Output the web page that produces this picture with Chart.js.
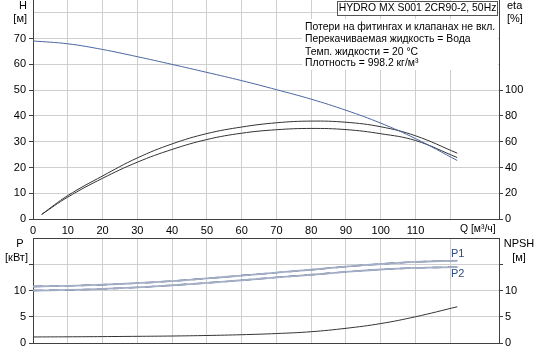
<!doctype html>
<html lang="ru">
<head>
<meta charset="utf-8">
<title>HYDRO MX S001 2CR90-2</title>
<style>
  body { margin: 0; background: #fff; }
  #wrap { position: relative; width: 539px; height: 352px; overflow: hidden; }
  canvas { position: absolute; left: 0; }
  #top { top: 0; }
  #bottom { top: 236px; }
</style>
</head>
<body>
<div id="wrap">
  <canvas id="top" width="539" height="240"></canvas>
  <canvas id="bottom" width="539" height="116"></canvas>
</div>
<script src="https://cdn.jsdelivr.net/npm/chart.js@4"></script>
<script>
// flow points, m3/h
const Q = [0, 10, 20, 30, 40, 50, 60, 70, 80, 90, 100, 110, 122];
const Q_ETA = [2.5, 10, 20, 30, 40, 50, 60, 70, 80, 90, 100, 110, 122];

// head, m
const H = [69.1, 68.0, 65.8, 63.0, 60.0, 56.9, 53.7, 50.2, 46.5, 42.2, 37.2, 31.2, 22.7];
// efficiency, %
const ETA1 = [3.6, 18.2, 33.4, 47.4, 58.3, 66.3, 71.4, 74.7, 76.0, 75.1, 71.6, 64.6, 51.1];
const ETA2 = [3.6, 17.0, 31.6, 44.1, 54.0, 61.7, 66.6, 69.3, 70.3, 69.4, 66.2, 60.9, 47.7];

// power, kW and NPSH, m
const P1 = [10.76, 10.9, 11.1, 11.4, 11.8, 12.3, 12.85, 13.4, 13.95, 14.55, 15.05, 15.45, 15.7];
const P2 = [10.0, 10.1, 10.3, 10.6, 11.0, 11.45, 11.95, 12.5, 13.0, 13.55, 14.0, 14.3, 14.45];
const NPSH = [1.15, 1.18, 1.22, 1.27, 1.33, 1.43, 1.58, 1.8, 2.15, 2.8, 3.7, 5.0, 6.9];

// axis ranges / last labelled tick
const Q_MAX = 134, Q_LAST_LABEL = 110;
const H_MAX = 85, H_LAST_LABEL = 70;
const ETA_MAX = 170, ETA_LAST_LABEL = 100;
const P_MAX = 20, P_LAST_LABEL = 10;

const TITLE = 'HYDRO MX S001 2CR90-2, 50Hz';
const INFO = [
  'Потери на фитингах и клапанах не вкл.',
  'Перекачиваемая жидкость = Вода',
  'Темп. жидкости = 20 °C',
  'Плотность = 998.2 кг/м³'
];

const FAMILY = '"Liberation Sans", Arial, sans-serif';
const FONT = '11px ' + FAMILY;
const SMALL = '10.4px ' + FAMILY;
Chart.defaults.font.family = FAMILY;
Chart.defaults.font.size = 11;
Chart.defaults.color = '#000';

const GRID = '#cfcfcf';
const AXIS = '#404040';

function pts(xs, ys) { return xs.map((x, i) => ({ x: x, y: ys[i] })); }

function line(data, color, width, dash) {
  return {
    data: data, borderColor: color, borderWidth: width, borderDash: dash || [],
    pointRadius: 0, fill: false, tension: 0.4
  };
}

function fixWidth(w) {
  return function (s) { s.width = w; s.paddingTop = 0; s.paddingBottom = 0; };
}
function fixHeight(h) {
  return function (s) { s.height = h; s.paddingLeft = 0; s.paddingRight = 0; };
}

// ---------- top chart: H and eta ----------
new Chart(document.getElementById('top'), {
  type: 'line',
  data: {
    datasets: [
      Object.assign(line(pts(Q, H), '#4a66a0', 1), { yAxisID: 'y' }),
      Object.assign(line(pts(Q_ETA, ETA1), '#333', 1), { yAxisID: 'eta' }),
      Object.assign(line(pts(Q_ETA, ETA2), '#333', 1), { yAxisID: 'eta' })
    ]
  },
  options: {
    responsive: false,
    animation: false,
    layout: { padding: 0 },
    plugins: { legend: { display: false }, tooltip: { enabled: false } },
    scales: {
      x: {
        type: 'linear', min: 0, max: Q_MAX,
        ticks: { stepSize: 10, padding: 5, maxRotation: 0,
          callback: v => v <= Q_LAST_LABEL ? v : '' },
        grid: { color: GRID, drawTicks: false },
        border: { display: true, color: AXIS, width: 1 },
        afterFit: fixHeight(21)
      },
      y: {
        position: 'left', min: 0, max: H_MAX,
        ticks: { stepSize: 5, padding: 3, callback: v => v <= H_LAST_LABEL ? v : '' },
        grid: { color: GRID, tickLength: 4,
          tickColor: c => (c.tick && c.tick.value <= 75) ? AXIS : 'rgba(0,0,0,0)' },
        border: { display: true, color: AXIS, width: 1 },
        afterFit: fixWidth(33)
      },
      eta: {
        position: 'right', min: 0, max: ETA_MAX,
        ticks: { stepSize: 10, padding: 2, callback: v => v <= ETA_LAST_LABEL ? v : '' },
        grid: { drawOnChartArea: false, tickLength: 4,
          tickColor: c => (c.tick && c.tick.value <= ETA_LAST_LABEL) ? AXIS : 'rgba(0,0,0,0)' },
        border: { display: true, color: AXIS, width: 1 },
        afterFit: fixWidth(40)
      }
    }
  },
  plugins: [{
    id: 'topTexts',
    beforeDatasetsDraw(chart) {
      const c = chart.ctx;
      c.save();
      c.fillStyle = '#fff';
      c.fillRect(302, 19, 196, 51);
      c.fillRect(337, 1, 161, 14);
      c.strokeStyle = '#555';
      c.lineWidth = 1;
      c.strokeRect(337.5, 1.5, 160, 14);
      c.restore();
    },
    afterDraw(chart) {
      const c = chart.ctx;
      c.save();
      c.font = FONT;
      c.fillStyle = '#000';
      c.textBaseline = 'middle';
      c.textAlign = 'right';
      c.fillText('H', 27, 6);
      c.fillText('[м]', 27, 19);
      c.textAlign = 'left';
      c.fillText('eta', 507, 6);
      c.fillText('[%]', 507, 19);
      c.font = SMALL;
      c.fillText('Q [м³/ч]', 460, 229.5);
      c.textAlign = 'center';
      c.fillText(TITLE, 417.5, 8.5);
      c.textAlign = 'left';
      const ys = [26.7, 39.3, 51.7, 63.5];
      INFO.forEach((t, i) => c.fillText(t, 305, ys[i]));
      c.restore();
    }
  }]
});

// ---------- bottom chart: P and NPSH ----------
new Chart(document.getElementById('bottom'), {
  type: 'line',
  data: {
    datasets: [
      Object.assign(line(pts(Q, P1), '#a3adc4', 1.8), { yAxisID: 'y' }),
      Object.assign(line(pts(Q, P1), '#1d4580', 1.4, [10, 6]), { yAxisID: 'y' }),
      Object.assign(line(pts(Q, P2), '#a3adc4', 1.8), { yAxisID: 'y' }),
      Object.assign(line(pts(Q, P2), '#1d4580', 1.4, [10, 6]), { yAxisID: 'y' }),
      Object.assign(line(pts(Q, NPSH), '#333', 1), { yAxisID: 'npsh' })
    ]
  },
  options: {
    responsive: false,
    animation: false,
    layout: { padding: { top: 2 } },
    plugins: { legend: { display: false }, tooltip: { enabled: false } },
    scales: {
      x: {
        type: 'linear', min: 0, max: Q_MAX,
        ticks: { display: false, stepSize: 10 },
        grid: { color: GRID, drawTicks: false },
        border: { display: true, color: AXIS, width: 1 },
        afterFit: fixHeight(9)
      },
      y: {
        position: 'left', min: 0, max: P_MAX,
        ticks: { stepSize: 5, padding: 3, callback: v => v <= P_LAST_LABEL ? v : '' },
        grid: { color: GRID, tickLength: 4,
          tickColor: c => (c.tick && c.tick.value <= 15) ? AXIS : 'rgba(0,0,0,0)' },
        border: { display: true, color: AXIS, width: 1 },
        afterFit: fixWidth(33)
      },
      npsh: {
        position: 'right', min: 0, max: P_MAX,
        ticks: { stepSize: 5, padding: 2, callback: v => v <= P_LAST_LABEL ? v : '' },
        grid: { drawOnChartArea: false, tickLength: 4,
          tickColor: c => (c.tick && c.tick.value <= 15) ? AXIS : 'rgba(0,0,0,0)' },
        border: { display: true, color: AXIS, width: 1 },
        afterFit: fixWidth(40)
      }
    }
  },
  plugins: [{
    id: 'bottomTexts',
    afterDraw(chart) {
      const c = chart.ctx;
      const a = chart.chartArea;
      c.save();
      c.strokeStyle = AXIS;
      c.lineWidth = 1;
      c.beginPath();
      c.moveTo(a.left, Math.round(a.top) + 0.5);
      c.lineTo(a.right, Math.round(a.top) + 0.5);
      c.stroke();
      c.font = FONT;
      c.fillStyle = '#000';
      c.textBaseline = 'middle';
      c.textAlign = 'center';
      c.fillText('P', 20, 8);
      c.fillText('[кВт]', 16.5, 21.5);
      c.fillText('NPSH', 519, 8);
      c.fillText('[м]', 519, 21.7);
      c.textAlign = 'left';
      c.fillStyle = '#2d4d80';
      c.fillText('P1', 451, 18.3);
      c.fillText('P2', 451, 38.3);
      c.restore();
    }
  }]
});
</script>
</body>
</html>
